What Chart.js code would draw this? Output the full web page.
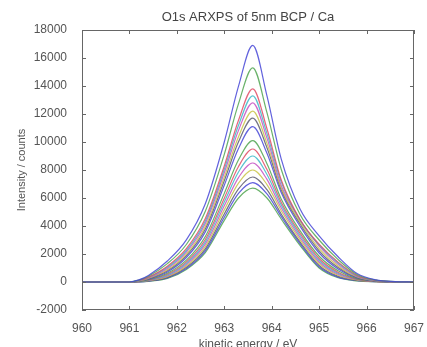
<!DOCTYPE html>
<html>
<head>
<meta charset="utf-8">
<script src="https://cdn.jsdelivr.net/npm/chart.js@4.4.1/dist/chart.umd.min.js"></script>
<style>
  html, body { margin: 0; padding: 0; background: #fff; }
  #wrap { width: 427px; height: 347px; }
</style>
</head>
<body>
<div id="wrap"><canvas id="xps"></canvas></div>
<script>
// kinetic energy sample points (eV)
const energy = [960, 961, 961.2, 961.4, 961.8, 962.2, 962.6, 963.0, 963.3, 963.6, 963.9, 964.2, 964.6, 965.0, 965.4, 965.8, 966.2, 966.6, 967];

// one spectrum per take-off angle, highest peak first
const scan01 = [0, 0, 150, 470, 1500, 3010, 5590, 10000, 13990, 16900, 13300, 8800, 5200, 3300, 1800, 600, 150, 30, 0];
const scan02 = [0, 0, 130, 410, 1310, 2680, 5050, 9120, 12740, 15300, 12100, 8050, 4800, 3000, 1600, 530, 130, 30, 0];
const scan03 = [0, 0, 110, 350, 1130, 2380, 4530, 8290, 11550, 13800, 10950, 7300, 4450, 2700, 1420, 470, 110, 20, 0];
const scan04 = [0, 0, 100, 320, 1050, 2250, 4350, 8050, 11190, 13300, 10600, 7150, 4400, 2650, 1360, 440, 100, 20, 0];
const scan05 = [0, 0, 90, 290, 960, 2130, 4180, 7800, 10830, 12800, 10280, 6900, 4430, 2560, 1260, 400, 90, 20, 0];
const scan06 = [0, 0, 80, 260, 870, 1990, 3970, 7490, 10380, 12200, 9900, 6730, 4270, 2390, 1140, 360, 90, 20, 0];
const scan07 = [0, 0, 70, 230, 800, 1880, 3790, 7230, 10010, 11700, 9590, 6590, 4140, 2230, 1040, 320, 80, 10, 0];
const scan08 = [0, 0, 60, 200, 720, 1750, 3580, 6910, 9540, 11100, 9190, 6390, 3970, 2070, 930, 290, 70, 10, 0];
const scan09 = [0, 0, 50, 170, 620, 1560, 3250, 6330, 8730, 10100, 8450, 5930, 3650, 1840, 800, 240, 60, 10, 0];
const scan10 = [0, 0, 40, 150, 550, 1440, 3040, 5990, 8250, 9500, 8030, 5700, 3470, 1680, 700, 210, 50, 10, 0];
const scan11 = [0, 0, 40, 130, 490, 1340, 2870, 5720, 7860, 9000, 7680, 5510, 3320, 1550, 620, 190, 50, 10, 0];
const scan12 = [0, 0, 30, 110, 430, 1240, 2700, 5440, 7460, 8500, 7330, 5300, 3170, 1430, 550, 160, 40, 0, 0];
const scan13 = [0, 0, 20, 90, 380, 1140, 2530, 5150, 7060, 8000, 6960, 5090, 3010, 1300, 480, 140, 30, 0, 0];
const scan14 = [0, 0, 20, 80, 330, 1050, 2370, 4860, 6650, 7500, 6590, 4860, 2850, 1190, 410, 120, 30, 0, 0];
const scan15 = [0, 0, 10, 60, 290, 970, 2230, 4630, 6330, 7100, 6300, 4690, 2730, 1090, 350, 100, 20, 0, 0];
const scan16 = [0, 0, 10, 50, 250, 900, 2100, 4400, 6000, 6700, 6000, 4500, 2600, 1000, 300, 80, 20, 0, 0];

const scans = [scan01, scan02, scan03, scan04, scan05, scan06, scan07, scan08,
               scan09, scan10, scan11, scan12, scan13, scan14, scan15, scan16];

const xTicks = [960, 961, 962, 963, 964, 965, 966, 967];
const yTicks = [-2000, 0, 2000, 4000, 6000, 8000, 10000, 12000, 14000, 16000, 18000];

const chartTitle = 'O1s ARXPS of 5nm BCP / Ca';

// matlab-ish colour order, softened
const lineColors = ['rgba(70,70,215,0.85)', 'rgba(80,165,80,0.85)', 'rgba(225,75,100,0.85)',
                    'rgba(60,185,200,0.85)', 'rgba(195,80,195,0.85)', 'rgba(200,195,70,0.85)',
                    'rgba(90,90,110,0.85)'];

const textColor = '#555';
const fontFamily = 'Liberation Sans, Arial, sans-serif';

// inward ticks on all four sides + box, like matlab "box on"
// title is centred over the plot area, not the whole canvas
const boxTicks = {
    id: 'boxTicks',
    afterDraw(chart) {
        const ctx = chart.ctx;
        const a = chart.chartArea;
        const xs = chart.scales.x, ys = chart.scales.y;
        ctx.save();
        ctx.strokeStyle = '#666';
        ctx.lineWidth = 1;
        ctx.strokeRect(a.left + 0.5, a.top + 0.5, a.right - a.left - 1, a.bottom - a.top - 1);
        ctx.beginPath();
        xTicks.forEach(v => {
            const px = Math.round(xs.getPixelForValue(v)) + 0.5;
            ctx.moveTo(px, a.bottom); ctx.lineTo(px, a.bottom - 4);
            ctx.moveTo(px, a.top); ctx.lineTo(px, a.top + 4);
        });
        yTicks.forEach(v => {
            const py = Math.round(ys.getPixelForValue(v)) + 0.5;
            ctx.moveTo(a.left, py); ctx.lineTo(a.left + 4, py);
            ctx.moveTo(a.right, py); ctx.lineTo(a.right - 4, py);
        });
        ctx.stroke();

        ctx.fillStyle = '#444';
        ctx.font = '13px ' + fontFamily;
        ctx.textAlign = 'center';
        ctx.textBaseline = 'middle';
        ctx.fillText(chartTitle, (a.left + a.right) / 2, a.top - 13);
        ctx.restore();
    }
};

new Chart(document.getElementById('xps'), {
    type: 'line',
    data: {
        labels: energy,
        datasets: scans.map((s, i) => ({
            label: 'scan ' + (i + 1),
            data: s.map((v, j) => ({ x: energy[j], y: v })),
            borderColor: lineColors[i % lineColors.length],
            borderWidth: 1.2,
            pointRadius: 0,
            cubicInterpolationMode: 'monotone',
            fill: false
        }))
    },
    options: {
        responsive: true,
        maintainAspectRatio: false,
        animation: false,
        layout: { padding: { left: 15, right: 9, top: 30, bottom: 0 } },
        plugins: {
            legend: { display: false },
            tooltip: { enabled: false },
            title: { display: false }
        },
        scales: {
            x: {
                type: 'linear',
                min: 960, max: 967,
                grid: { display: false },
                border: { display: false },
                afterBuildTicks: s => { s.ticks = xTicks.map(v => ({ value: v })); },
                afterFit: s => { s.height = 37; },
                ticks: {
                    color: textColor,
                    padding: 3,
                    maxRotation: 0,
                    font: { family: fontFamily, size: 12 },
                    callback: v => String(v)
                },
                title: {
                    display: true,
                    text: 'kinetic energy / eV',
                    color: textColor,
                    padding: { top: 0, bottom: -5 },
                    font: { family: fontFamily, size: 12 }
                }
            },
            y: {
                min: -2000, max: 18000,
                grid: { display: false },
                border: { display: false },
                afterBuildTicks: s => { s.ticks = yTicks.map(v => ({ value: v })); },
                afterFit: s => { s.width = 67; },
                ticks: {
                    color: textColor,
                    padding: 7,
                    font: { family: fontFamily, size: 12 },
                    callback: v => String(v)
                },
                title: {
                    display: true,
                    text: 'Intensity / counts',
                    color: textColor,
                    padding: { top: 0, bottom: 0 },
                    font: { family: fontFamily, size: 11 }
                }
            }
        }
    },
    plugins: [boxTicks]
});
</script>
</body>
</html>
